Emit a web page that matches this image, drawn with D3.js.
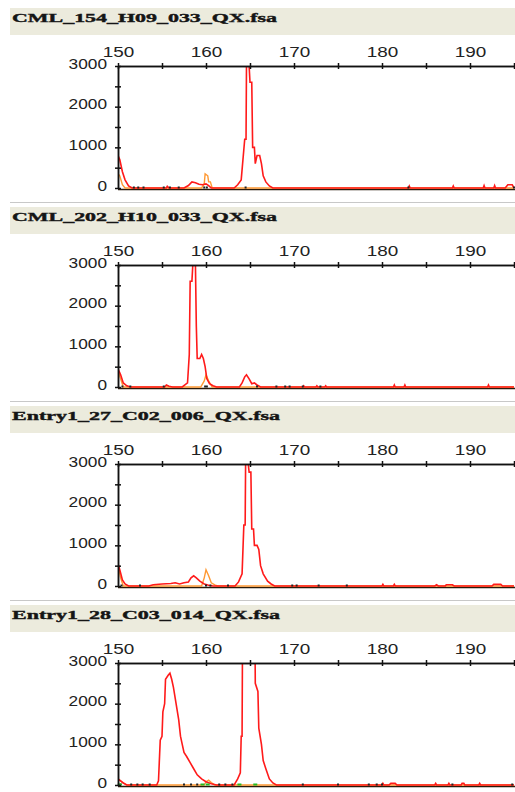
<!DOCTYPE html>
<html>
<head>
<meta charset="utf-8">
<script src="https://cdn.jsdelivr.net/npm/d3@7"></script>
<style>
  body { margin: 0; background: #fff; }
  svg { display: block; }
</style>
</head>
<body>
<div id="chart"></div>
<script>
var svgWidth = 515;
var svgHeight = 792;

// DATA
var titles = ["CML_154_H09_033_QX.fsa", "CML_202_H10_033_QX.fsa",
    "Entry1_27_C02_006_QX.fsa", "Entry1_28_C03_014_QX.fsa"];
var xMajorTicks = [150, 160, 170, 180, 190];
var xMinorTicks = [155, 165, 175, 185, 195];
var yMajorTicks = [0, 1000, 2000, 3000];
var yMinorTicks = [500, 1500, 2500];

// red trace, [size, height] pairs
var red1 = [[150,800],[150.2,700],[150.5,400],[150.8,200],[151.2,50],[151.6,0],[155.5,0],[155.6,40],[155.8,0],
    [157.5,0],[158,60],[158.4,150],[158.8,130],[159.2,90],[159.6,80],[160,100],[160.3,60],[160.6,0],
    [163.2,0],[163.6,80],[164,200],[164.4,1200],[164.55,1200],[164.6,3000],[164.9,3000],[165,2600],[165.2,2600],
    [165.3,1000],[165.5,1000],[165.6,600],[165.8,800],[166.1,800],[166.3,600],[166.5,300],[166.8,150],[167.2,50],[167.6,0],
    [183,0],[183.1,50],[183.2,0],[188,0],[188.1,50],[188.2,0],[191.5,0],[191.6,60],[191.7,0],
    [192.7,0],[192.8,60],[192.9,0],[194,0],[194.3,80],[194.8,80],[195,0]];
var red2 = [[150,450],[150.3,300],[150.6,100],[151,30],[151.4,0],[155.3,0],[155.5,50],[155.8,20],[156.2,0],
    [157.3,0],[157.6,50],[157.9,100],[158.1,800],[158.2,2600],[158.4,2600],[158.5,3000],[158.8,3000],[158.9,1500],
    [159,700],[159.3,700],[159.5,800],[159.7,700],[159.9,500],[160.1,200],[160.4,80],[160.8,30],[161.2,0],
    [163.8,0],[164.1,100],[164.4,250],[164.6,300],[164.9,200],[165.2,80],[165.5,100],[165.8,50],[166.2,0],
    [171,0],[171.1,30],[171.2,0],[172.5,0],[172.6,30],[172.7,0],[173.5,0],[173.6,30],[173.7,0],
    [181.3,0],[181.4,50],[181.5,0],[182.5,0],[182.6,50],[182.7,0],[192,0],[192.1,50],[192.2,0],[195,0]];
var red3 = [[150,550],[150.2,400],[150.5,150],[150.8,50],[151.2,0],[153.5,0],[154,30],[155,50],[156,60],[156.5,80],
    [157,50],[157.5,80],[158,100],[158.3,200],[158.6,250],[158.9,200],[159.3,120],[159.8,50],[160.3,20],[160.8,0],
    [163.3,0],[163.7,100],[164.1,300],[164.3,1500],[164.45,1500],[164.5,3000],[164.8,3000],[164.9,2800],[165.1,2800],
    [165.2,1400],[165.4,1400],[165.5,1000],[165.8,1000],[166,900],[166.2,500],[166.5,300],[167,120],[167.4,50],[167.8,0],
    [180,0],[180.1,40],[180.2,0],[181.3,0],[181.4,40],[181.5,0],[186,0],[186.2,30],[186.4,0],
    [187.2,0],[187.3,30],[188,30],[188.2,0],[192.5,0],[192.7,40],[193.5,40],[193.7,0],[195,0]];
var red4 = [[150,150],[150.3,100],[150.6,50],[151,0],[154.4,0],[154.6,100],[154.8,1100],[155,1200],[155.1,1800],
    [155.3,2000],[155.4,2600],[155.7,2700],[155.9,2750],[156.1,2600],[156.3,2400],[156.6,2000],[156.9,1600],
    [157.1,1200],[157.3,1000],[157.5,800],[157.8,700],[158.2,550],[158.6,400],[159,250],[159.5,150],[160,80],
    [160.6,30],[161.2,0],[163.2,0],[163.6,150],[163.9,300],[164,1200],[164.1,1200],[164.2,6000],[165.5,6000],
    [165.6,2500],[165.9,2300],[166,1400],[166.3,1000],[166.5,600],[166.8,400],[167.2,150],[167.6,50],[168,0],
    [180,0],[180.1,40],[180.2,0],[180.8,0],[181,40],[181.5,40],[181.7,0],[186,0],[186.1,40],[186.2,0],
    [187.5,0],[187.6,40],[187.7,0],[189,0],[189.1,40],[189.3,40],[189.4,0],[191,0],[191.1,40],[191.2,0],[195,0]];

// orange trace
var orange1 = [[150,350],[150.2,300],[150.5,80],[150.8,0],[159.5,0],[159.8,100],[159.9,350],[160.2,300],
    [160.3,150],[160.5,150],[160.7,0],[195,0]];
var orange2 = [[150,400],[150.3,200],[150.6,0],[159.4,0],[159.8,150],[160,300],[160.3,150],[160.7,0],[195,0]];
var orange3 = [[150,500],[150.3,200],[150.6,0],[159.5,0],[159.8,200],[160,400],[160.3,250],[160.6,80],[161,30],[161.3,0],[195,0]];
var orange4 = [[150,150],[150.4,80],[151,0],[159.8,0],[160,80],[160.3,120],[160.6,60],[161,0],[195,0]];

// small black and green marks on the baseline
var black1 = [151.8, 152.3, 152.9, 155.2, 155.9, 156.9, 159.8, 160.1, 164.5, 183, 195];
var black2 = [150.5, 151.4, 155.2, 159.9, 160.1, 165.8, 168, 169, 169.5, 171, 173];
var black3 = [150.4, 152.5, 160, 160.5, 162.5, 169.8, 170.3, 172.8, 176];
var black4 = [150.3, 151.5, 152.2, 152.8, 153.6, 157.5, 158.3, 159, 161.5, 162.2, 163, 171, 175, 178.5, 179.4, 180, 188, 194.8];
var green4 = [150.2, 159.6, 160.2, 163.8, 165.6];

var panels = [
    {title: titles[0], red: red1, orange: orange1, black: black1, green: []},
    {title: titles[1], red: red2, orange: orange2, black: black2, green: []},
    {title: titles[2], red: red3, orange: orange3, black: black3, green: []},
    {title: titles[3], red: red4, orange: orange4, black: black4, green: green4}
];

var svg = d3.select("#chart")
    .append("svg")
    .attr("width", svgWidth)
    .attr("height", svgHeight);

var xScale = d3.scaleLinear()
    .domain([150, 195])
    .range([118, 514]);

// widen the text the way the screenshot was stretched
function stretch(sel, perChar) {
    sel.each(function() {
        var t = d3.select(this);
        var s = t.text();
        if (s.length) {
            t.attr("textLength", s.length * perChar)
             .attr("lengthAdjust", "spacingAndGlyphs");
        }
    });
}

panels.forEach(function(p, i) {
    var top = i * 199;
    var g = svg.append("g").attr("transform", `translate(0, ${top})`);

    // header bar
    if (i > 0) {
        g.append("line")
            .attr("x1", 10).attr("x2", svgWidth)
            .attr("y1", 3.5).attr("y2", 3.5)
            .attr("stroke", "#c8c8c8");
    }
    g.append("rect")
        .attr("x", 10).attr("y", 8)
        .attr("width", svgWidth - 10).attr("height", 27)
        .attr("fill", "#ecebdd");
    g.append("text")
        .attr("x", 12).attr("y", 22)
        .attr("textLength", p.title.length > 22 ? 268 : 265)
        .attr("lengthAdjust", "spacingAndGlyphs")
        .style("font-family", "'Liberation Serif', serif")
        .style("font-weight", "bold")
        .style("font-size", "13px")
        .attr("fill", "#151515")
        .attr("stroke", "#151515")
        .attr("stroke-width", 0.4)
        .text(p.title);

    var yScale = d3.scaleLinear()
        .domain([0, 3000])
        .range([188, 66]);

    // clip so peaks stop at the top of the plot
    var clipId = "clip" + i;
    g.append("clipPath").attr("id", clipId)
        .append("rect")
        .attr("x", 118).attr("y", 66)
        .attr("width", 400).attr("height", 124);

    var line = d3.line()
        .x(d => xScale(d[0]))
        .y(d => yScale(d[1]));

    // baseline
    g.append("line")
        .attr("x1", 118).attr("x2", svgWidth)
        .attr("y1", 189.5).attr("y2", 189.5)
        .attr("stroke", "#2a1a0a")
        .attr("stroke-width", 1.6);

    var traces = g.append("g").attr("clip-path", `url(#${clipId})`);

    traces.append("path")
        .datum(p.orange)
        .attr("d", line)
        .attr("fill", "none")
        .attr("stroke", "#ff9933")
        .attr("stroke-width", 1.4);

    traces.append("path")
        .datum(p.red)
        .attr("d", line)
        .attr("fill", "none")
        .attr("stroke", "#ff1a1a")
        .attr("stroke-width", 1.6);

    g.selectAll(".blk")
        .data(p.black)
        .enter()
        .append("rect")
        .attr("x", d => xScale(d) - 1)
        .attr("y", 186.5)
        .attr("width", 2)
        .attr("height", 2)
        .attr("fill", "#222");

    g.selectAll(".grn")
        .data(p.green)
        .enter()
        .append("rect")
        .attr("x", d => xScale(d) - 2)
        .attr("y", 186.5)
        .attr("width", 4)
        .attr("height", 2)
        .attr("fill", "#22bb22");

    // top x axis
    var xAxis = g.append("g")
        .attr("transform", "translate(0, 66)")
        .call(d3.axisTop(xScale).tickValues(xMajorTicks).tickSize(3).tickPadding(6).tickSizeOuter(0));
    var xMinor = g.append("g")
        .attr("transform", "translate(0, 66)")
        .call(d3.axisTop(xScale).tickValues(xMinorTicks).tickSize(3).tickFormat("").tickSizeOuter(0));
    [xAxis, xMinor].forEach(function(a) {
        a.select(".domain").attr("stroke", "#111").attr("stroke-width", 1.5);
        a.selectAll(".tick line").attr("y1", 3).attr("y2", -3).attr("stroke", "#111").attr("stroke-width", 1.5);
    });
    xAxis.selectAll("text")
        .style("font-family", "'Liberation Sans', Arial, sans-serif")
        .style("font-size", "14px")
        .attr("fill", "#222")
        .call(stretch, 10.5);

    // left y axis
    var yAxis = g.append("g")
        .attr("transform", "translate(118, 0)")
        .call(d3.axisLeft(yScale).tickValues(yMajorTicks).tickFormat(d3.format("d"))
            .tickSize(3).tickPadding(8).tickSizeOuter(0));
    var yMinor = g.append("g")
        .attr("transform", "translate(118, 0)")
        .call(d3.axisLeft(yScale).tickValues(yMinorTicks).tickSize(3).tickFormat("").tickSizeOuter(0));
    [yAxis, yMinor].forEach(function(a) {
        a.select(".domain").attr("stroke", "#111").attr("stroke-width", 1.5);
        a.selectAll(".tick line").attr("x1", 3).attr("x2", -3).attr("stroke", "#111").attr("stroke-width", 1.5);
    });
    yAxis.selectAll("text")
        .style("font-family", "'Liberation Sans', Arial, sans-serif")
        .style("font-size", "14px")
        .attr("dy", "0.15em")
        .attr("fill", "#222")
        .call(stretch, 9.6);
});
</script>
</body>
</html>
